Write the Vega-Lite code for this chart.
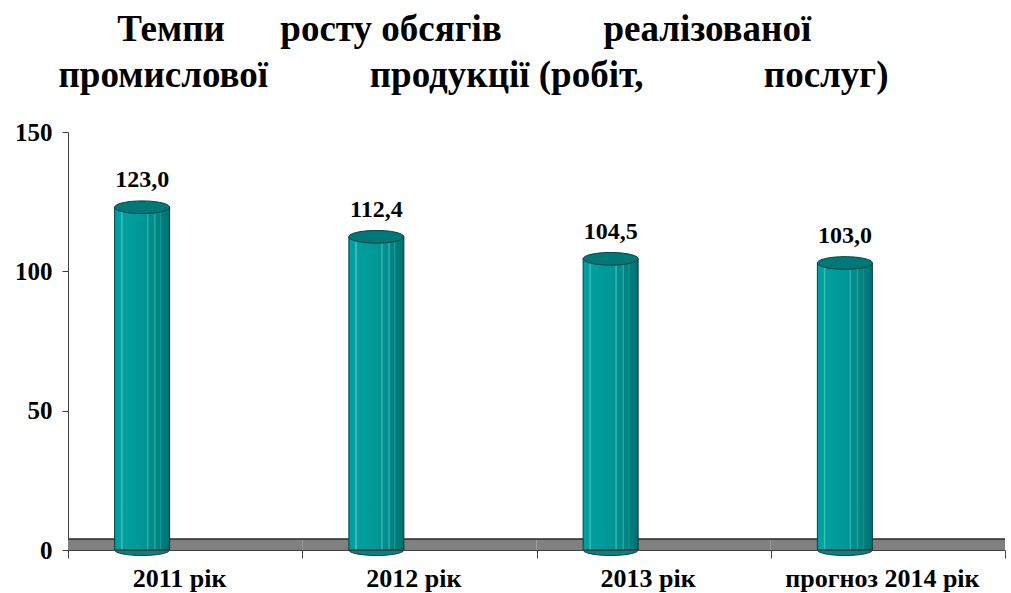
{
  "$schema": "https://vega.github.io/schema/vega-lite/v6.json",
  "width": 937,
  "height": 418,
  "autosize": "none",
  "padding": {"left": 68, "top": 132, "right": 6, "bottom": 43},
  "background": "white",
  "title": {
    "text": [
      "Темпи\u00a0\u00a0\u00a0\u00a0\u00a0\u00a0росту обсягів\u00a0\u00a0\u00a0\u00a0\u00a0\u00a0\u00a0\u00a0\u00a0\u00a0\u00a0реалізованої\u2002\u200b",
      "промислової\u00a0\u00a0\u00a0\u00a0\u00a0\u00a0\u00a0\u00a0\u00a0\u00a0\u00a0продукції (робіт,\u00a0\u00a0\u00a0\u00a0\u00a0\u00a0\u00a0\u00a0\u00a0\u00a0\u00a0\u00a0\u00a0послуг)"
    ],
    "anchor": "middle",
    "frame": "group",
    "font": "Liberation Serif",
    "fontSize": 37,
    "fontWeight": "bold",
    "color": "#000000",
    "baseline": "alphabetic",
    "lineHeight": 46,
    "offset": -4,
    "dx": -63
  },
  "data": {
    "values": [
      {"year": "2011 рік", "value": 123.0},
      {"year": "2012 рік", "value": 112.4},
      {"year": "2013 рік", "value": 104.5},
      {"year": "прогноз 2014 рік", "value": 103.0}
    ]
  },
  "encoding": {
    "x": {
      "field": "year",
      "type": "nominal",
      "sort": null,
      "scale": {"paddingInner": 0, "paddingOuter": 0},
      "axis": {
        "title": null,
        "labelAngle": 0,
        "labelFont": "Liberation Serif",
        "labelFontSize": 26,
        "labelFontWeight": "bold",
        "labelColor": "#000000",
        "labelPadding": 7,
        "labelOffset": -6,
        "labelLimit": 400,
        "tickBand": "extent",
        "tickSize": 8,
        "tickColor": "#404040",
        "domainColor": "#404040",
        "grid": false
      }
    },
    "y": {
      "field": "value",
      "type": "quantitative",
      "scale": {"domain": [0, 150], "nice": false, "zero": true},
      "axis": {
        "title": null,
        "values": [0, 50, 100, 150],
        "labelFont": "Liberation Serif",
        "labelFontSize": 25,
        "labelFontWeight": "bold",
        "labelColor": "#000000",
        "labelPadding": 10,
        "tickSize": 6,
        "tickColor": "#404040",
        "domainColor": "#404040",
        "grid": false
      }
    }
  },
  "layer": [
    {
      "mark": {"type": "rect", "fill": "#808080", "strokeWidth": 0},
      "encoding": {
        "y": {"datum": 3.9, "type": "quantitative"},
        "y2": {"datum": 0}
      }
    },
    {
      "mark": {"type": "rule", "color": "#404040", "strokeWidth": 1},
      "encoding": {
        "x": null,
        "y": {"datum": 3.9, "type": "quantitative"}
      }
    },
    {
      "mark": {
        "type": "point",
        "shape": "M-1,0A1,0.2,0,1,1,1,0A1,0.2,0,1,1,-1,0Z",
        "size": 3025,
        "filled": true,
        "fill": "#008585",
        "stroke": "#003f3f",
        "strokeWidth": 1,
        "opacity": 1,
        "xOffset": -43
      },
      "encoding": {"y": {"datum": 0, "type": "quantitative"}}
    },
    {
      "mark": {
        "type": "bar",
        "size": 55,
        "xOffset": -43,
        "stroke": "#003f3f",
        "strokeWidth": 1,
        "color": {
          "gradient": "linear",
          "x1": 0, "x2": 1, "y1": 0, "y2": 0,
          "stops": [
            {"offset": 0, "color": "#009e9e"},
            {"offset": 0.11, "color": "#00a0a0"},
            {"offset": 0.12, "color": "#3cb8b8"},
            {"offset": 0.14, "color": "#3cb8b8"},
            {"offset": 0.15, "color": "#00a0a0"},
            {"offset": 0.4, "color": "#009a9a"},
            {"offset": 0.58, "color": "#009494"},
            {"offset": 0.59, "color": "#30acac"},
            {"offset": 0.61, "color": "#30acac"},
            {"offset": 0.62, "color": "#009090"},
            {"offset": 0.71, "color": "#008c8c"},
            {"offset": 0.72, "color": "#28a0a0"},
            {"offset": 0.74, "color": "#28a0a0"},
            {"offset": 0.75, "color": "#008686"},
            {"offset": 0.82, "color": "#008282"},
            {"offset": 0.83, "color": "#209898"},
            {"offset": 0.85, "color": "#008080"},
            {"offset": 1, "color": "#006e6e"}
          ]
        }
      }
    },
    {
      "mark": {
        "type": "point",
        "shape": "M-1,0A1,0.23,0,1,1,1,0A1,0.23,0,1,1,-1,0Z",
        "size": 3025,
        "filled": true,
        "fill": "#007878",
        "stroke": "#003f3f",
        "strokeWidth": 1,
        "opacity": 1,
        "xOffset": -43
      }
    },
    {
      "mark": {
        "type": "text",
        "font": "Liberation Serif",
        "fontSize": 24,
        "fontWeight": "bold",
        "color": "#000000",
        "baseline": "alphabetic",
        "dy": -20,
        "xOffset": -43
      },
      "encoding": {
        "text": {"field": "value", "type": "quantitative", "format": ".1f"}
      }
    }
  ],
  "config": {
    "view": {"stroke": null},
    "locale": {
      "number": {"decimal": ",", "thousands": " ", "grouping": [3], "currency": ["", ""]}
    }
  }
}
